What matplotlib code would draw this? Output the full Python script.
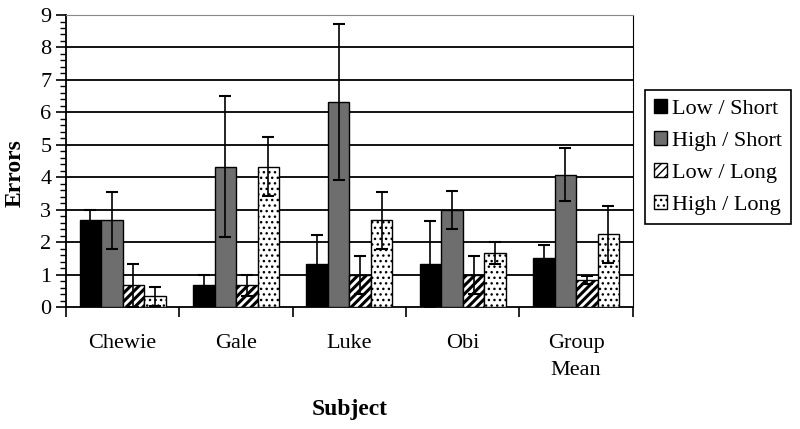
import numpy as np
import matplotlib.pyplot as plt
from matplotlib.ticker import MultipleLocator, FixedLocator

subjects = ["Chewie", "Gale", "Luke", "Obi", "Group\nMean"]
series = ["Low / Short", "High / Short", "Low / Long", "High / Long"]

low_short = [2.67, 0.67, 1.33, 1.33, 1.50]
high_short = [2.67, 4.33, 6.33, 3.00, 4.08]
low_long = [0.67, 0.67, 1.00, 1.00, 0.83]
high_long = [0.33, 4.33, 2.67, 1.67, 2.25]

low_short_err = [0.33, 0.33, 0.88, 1.33, 0.40]
high_short_err = [0.88, 2.17, 2.40, 0.58, 0.82]
low_long_err = [0.67, 0.33, 0.58, 0.58, 0.12]
high_long_err = [0.30, 0.90, 0.88, 0.33, 0.88]

plt.rcParams['font.family'] = ['Liberation Serif', 'DejaVu Serif']

values = [low_short, high_short, low_long, high_long]
errors = [low_short_err, high_short_err, low_long_err, high_long_err]
faces = ["black", "#6e6e6e", "white", "white"]
hatches = [None, None, "////", "..."]
hatch_lw = [1.0, 1.0, 2.2, 1.0]

fig = plt.figure(figsize=(8, 4.29), dpi=100)
ax = fig.add_axes([0.0825, 0.284, 0.7085, 0.681])

x = np.arange(len(subjects))
width = 0.19
for i, (vals, errs) in enumerate(zip(values, errors)):
    pos = x + (i - 1.5) * width
    bars = ax.bar(pos, vals, width, color=faces[i], edgecolor="black", linewidth=1.0,
                  hatch=hatches[i], label=series[i], zorder=3)
    for b in bars:
        if hasattr(b, "set_hatch_linewidth"):
            b.set_hatch_linewidth(hatch_lw[i])
    ax.errorbar(pos, vals, yerr=errs, fmt="none", ecolor="black",
                elinewidth=1.2, capsize=4, capthick=1.5, zorder=4)

ax.set_xlim(-0.5, len(subjects) - 0.5)
ax.set_ylim(0, 9)

ax.yaxis.set_major_locator(MultipleLocator(1))
ax.yaxis.set_minor_locator(MultipleLocator(0.2))
ax.tick_params(axis="y", which="major", length=7, width=1.2, labelsize=16, direction="out")
ax.tick_params(axis="y", which="minor", length=4, width=1.0, direction="out")
for yv in range(1, 9):
    ax.axhline(yv, color="black", linewidth=1.3, zorder=1)

ax.xaxis.set_major_locator(FixedLocator(np.arange(-0.5, len(subjects), 1.0)))
ax.xaxis.set_major_formatter(plt.NullFormatter())
ax.xaxis.set_minor_locator(FixedLocator(x))
ax.set_xticklabels(subjects, minor=True, fontsize=16, linespacing=1.6)
ax.tick_params(axis="x", which="major", length=7, width=1.2, direction="out")
ax.tick_params(axis="x", which="minor", length=0, pad=19)

ax.spines["top"].set_color("#888888")
ax.spines["right"].set_color("black")
for s in ["left", "bottom"]:
    ax.spines[s].set_linewidth(1.3)

ax.set_ylabel("Errors", fontsize=17, fontweight="bold")
ax.yaxis.set_label_coords(-0.072, 0.46)
ax.set_xlabel("Subject", fontsize=17, fontweight="bold")
ax.xaxis.set_label_coords(0.5, -0.315)

leg = fig.legend(loc="upper left", bbox_to_anchor=(645 / 800, 1 - 90 / 429),
                 fontsize=16, frameon=True, fancybox=False, framealpha=1,
                 edgecolor="black", handlelength=0.6, handleheight=0.6,
                 handletextpad=0.2, labelspacing=0.55, borderpad=0.4,
                 borderaxespad=0)
leg.get_frame().set_linewidth(1.2)

fig.savefig("out.png", dpi=100)
